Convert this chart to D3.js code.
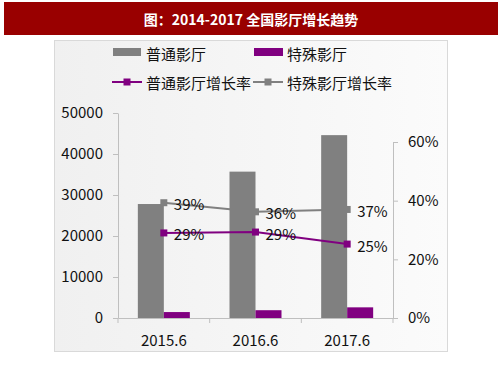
<!DOCTYPE html>
<html><head><meta charset="utf-8">
<script src="https://cdn.jsdelivr.net/npm/d3@7"></script>
<style>body{margin:0;background:#fff}svg{display:block}</style>
</head><body>
<script>
const categories = ["2015.6","2016.6","2017.6"];
const normalHalls = [27800, 35700, 44600];
const specialHalls = [1450, 1900, 2600];
const normalGrowth = [0.29, 0.293, 0.252];
const specialGrowth = [0.393, 0.362, 0.37];
const normalGrowthLabels = ["29%","29%","25%"];
const specialGrowthLabels = ["39%","36%","37%"];
const leftTicks = [0,10000,20000,30000,40000,50000];
const rightTicks = [0,0.2,0.4,0.6];

const W=503,H=378;
const font='"Noto Sans CJK SC","Noto Sans",sans-serif';
const svg=d3.select("body").append("svg").attr("width",W).attr("height",H);
const defs=svg.append("defs");
const g=defs.append("linearGradient").attr("id","bg").attr("x1","0").attr("x2","1").attr("y1","0").attr("y2","0");
g.append("stop").attr("offset","0").attr("stop-color","#f0f0f0");
g.append("stop").attr("offset","1").attr("stop-color","#fbfbfb");

// title bar
svg.append("rect").attr("x",4).attr("y",2).attr("width",494).attr("height",33).attr("fill","#990000");
svg.append("text").attr("x",251).attr("y",19).attr("text-anchor","middle").attr("dominant-baseline","central")
  .attr("fill","#fff").attr("font-family",font).attr("font-weight","bold").attr("font-size",14)
  .text("图：2014-2017 全国影厅增长趋势");

// panel
svg.append("rect").attr("x",54.5).attr("y",40.5).attr("width",393).attr("height",311).attr("fill","url(#bg)").attr("stroke","#d9d9d9");

const x=d3.scaleBand().domain(categories).range([118,393]).paddingInner(0).paddingOuter(0);
const yL=d3.scaleLinear().domain([0,50000]).range([318,113]);
const yR=d3.scaleLinear().domain([0,0.6]).range([318,142]);
const bw=26;

// bars
svg.append("g").selectAll("rect").data(categories).join("rect")
  .attr("x",d=>x(d)+x.bandwidth()/2-bw).attr("width",bw)
  .attr("y",(d,i)=>yL(normalHalls[i])).attr("height",(d,i)=>yL(0)-yL(normalHalls[i])).attr("fill","#808080");
svg.append("g").selectAll("rect").data(categories).join("rect")
  .attr("x",d=>x(d)+x.bandwidth()/2).attr("width",bw)
  .attr("y",(d,i)=>yL(specialHalls[i])).attr("height",(d,i)=>yL(0)-yL(specialHalls[i])).attr("fill","#800080");

// axes
const axisColor="#bfbfbf";
function styleAxis(sel){
  sel.selectAll("path,line").attr("stroke",axisColor);
  sel.selectAll("text").attr("font-family",font).attr("font-size",15).attr("fill","#111");
}
const la=svg.append("g").attr("transform","translate(118,0)")
  .call(d3.axisLeft(yL).tickValues(leftTicks).tickSize(5).tickSizeOuter(0).tickPadding(10).tickFormat(d3.format("d")));
styleAxis(la);
const ra=svg.append("g").attr("transform","translate(393,0)")
  .call(d3.axisRight(yR).tickValues(rightTicks).tickSize(5).tickSizeOuter(0).tickPadding(10).tickFormat(d3.format(".0%")));
styleAxis(ra);
const xa=svg.append("g").attr("transform","translate(0,318)")
  .call(d3.axisBottom(x).tickSize(0).tickPadding(17));
styleAxis(xa);
// x tick marks at band edges
const edges=categories.map(c=>x(c)).concat([x.range()[1]]);
svg.append("g").selectAll("line").data(edges).join("line")
  .attr("x1",d=>d).attr("x2",d=>d).attr("y1",318).attr("y2",323).attr("stroke",axisColor);

// lines
function drawLine(vals,labels,color){
  const pts=categories.map((c,i)=>[x(c)+x.bandwidth()/2,yR(vals[i])]);
  svg.append("path").attr("d",d3.line()(pts)).attr("fill","none").attr("stroke",color).attr("stroke-width",2);
  svg.append("g").selectAll("rect").data(pts).join("rect")
    .attr("x",p=>p[0]-3.5).attr("y",p=>p[1]-3.5).attr("width",7).attr("height",7).attr("fill",color);
  svg.append("g").selectAll("text").data(pts).join("text")
    .attr("x",p=>p[0]+10).attr("y",p=>p[1]+1).attr("dominant-baseline","central")
    .attr("font-family",font).attr("font-size",15).attr("fill","#111").text((p,i)=>labels[i]);
}
drawLine(specialGrowth,specialGrowthLabels,"#808080");
drawLine(normalGrowth,normalGrowthLabels,"#800080");

// legend
const leg=svg.append("g").attr("font-family",font).attr("font-size",15).attr("fill","#111");
leg.append("rect").attr("x",113).attr("y",48).attr("width",28).attr("height",8).attr("fill","#808080");
leg.append("text").attr("x",146).attr("y",53).attr("dominant-baseline","central").text("普通影厅");
leg.append("rect").attr("x",254).attr("y",48).attr("width",29).attr("height",8).attr("fill","#800080");
leg.append("text").attr("x",287).attr("y",53).attr("dominant-baseline","central").text("特殊影厅");
function legLine(x0,color,label){
  leg.append("line").attr("x1",x0).attr("x2",x0+30).attr("y1",82).attr("y2",82).attr("stroke",color).attr("stroke-width",2);
  leg.append("rect").attr("x",x0+11.5).attr("y",78.5).attr("width",7).attr("height",7).attr("fill",color);
  leg.append("text").attr("x",x0+34).attr("y",82).attr("dominant-baseline","central").text(label);
}
legLine(112,"#800080","普通影厅增长率");
legLine(253,"#808080","特殊影厅增长率");
</script>
</body></html>
